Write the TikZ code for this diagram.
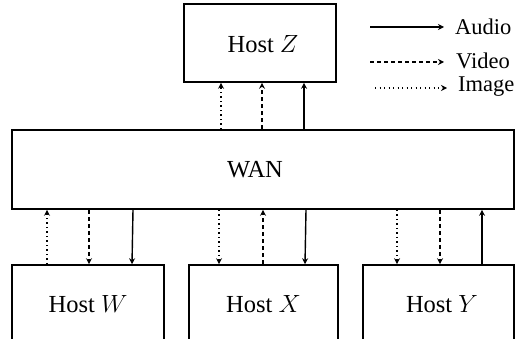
\documentclass[tikz,border=0pt]{standalone}
\usepackage{fontspec}
\setmainfont{Liberation Serif}
\usetikzlibrary{arrows.meta}
\begin{document}
\begin{tikzpicture}[x=1pt,y=-1pt,
  txt/.style={font=\fontsize{24.5}{27}\selectfont,inner sep=0pt,anchor=base},
  box/.style={draw,line width=1.6pt,inner sep=0pt},
  tip/.style={-{Stealth[length=6pt,width=6pt,inset=2pt]}},
  audio/.style={tip,line width=1.4pt},
  video/.style={tip,line width=1.5pt,dash pattern=on 4pt off 3pt},
  image/.style={tip,line width=1.3pt,dash pattern=on 1.3pt off 3.2pt},
  lbl/.style={anchor=west,inner sep=0pt,font=\fontsize{22.5}{25}\selectfont}]
\useasboundingbox (0,0) rectangle (524,339);
\clip (0,0) rectangle (524,339);
% boxes
\node[box,minimum width=152pt,minimum height=78pt] (hostZ) at (260,43) {};
\node[box,minimum width=502pt,minimum height=79pt] (wan) at (263,169.5) {};
\node[box,minimum width=152pt,minimum height=78pt] (hostW) at (88,304) {};
\node[box,minimum width=149pt,minimum height=78pt] (hostX) at (263.5,304) {};
\node[box,minimum width=151pt,minimum height=78pt] (hostY) at (438.5,304) {};
% box labels
\node[txt] (tZ) at (263,53) {Host $Z$};
\node[txt] (tWAN) at (255,177) {WAN};
\node[txt] (tW) at (88,312) {Host $W$};
\node[txt] (tX) at (263.5,312) {Host $X$};
\node[txt] (tY) at (442,312) {Host $Y$};
% WAN <-> Host Z
\draw[image] (wan.north -| 221,0) -- (hostZ.south -| 221,0);
\draw[video] (wan.north -| 262,0) -- (hostZ.south -| 262,0);
\draw[audio] (wan.north -| 304,0) -- (hostZ.south -| 304,0);
% WAN <-> Host W
\draw[image] (hostW.north -| 47,0) -- (wan.south -| 47,0);
\draw[video] (wan.south -| 89,0) -- (hostW.north -| 89,0);
\draw[audio] (wan.south -| 133,0) -- (hostW.north -| 132,0);
% WAN <-> Host X
\draw[image] (wan.south -| 219,0) -- (hostX.north -| 219,0);
\draw[video] (hostX.north -| 263,0) -- (wan.south -| 263,0);
\draw[audio] (wan.south -| 306,0) -- (hostX.north -| 305,0);
% WAN <-> Host Y
\draw[image] (wan.south -| 397,0) -- (hostY.north -| 397,0);
\draw[video] (wan.south -| 440,0) -- (hostY.north -| 440,0);
\draw[audio] (hostY.north -| 482,0) -- (wan.south -| 482,0);
% legend
\coordinate (la0) at (370,27);  \coordinate (la1) at (444,27);
\coordinate (lv0) at (370,62);  \coordinate (lv1) at (444,62);
\coordinate (li0) at (375,88);  \coordinate (li1) at (447,88);
\draw[audio] (la0) -- (la1);
\draw[video] (lv0) -- (lv1);
\draw[image] (li0) -- (li1);
\node[lbl] (ta) at (455,27) {Audio};
\node[lbl] (tv) at (456,61) {Video};
\node[lbl] (ti) at (458,87) {Image};
\end{tikzpicture}
\end{document}
